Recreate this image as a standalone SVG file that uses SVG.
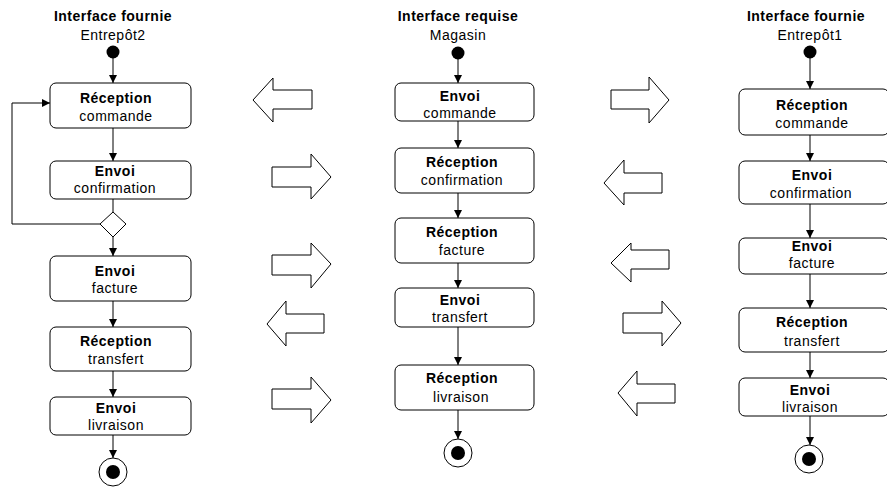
<svg xmlns="http://www.w3.org/2000/svg" width="887" height="487" viewBox="0 0 887 487">
<defs>
<marker id="ah" markerWidth="8" markerHeight="10" refX="8" refY="5" orient="auto" markerUnits="userSpaceOnUse" viewBox="0 0 8 10">
<path d="M0,1 L8,5 L0,9 Z" fill="#000"/>
</marker>
</defs>
<style>
.box{fill:#fff;stroke:#000;stroke-width:1}
.t{font-family:"Liberation Sans",Arial,sans-serif;font-size:14px;text-anchor:middle;fill:#000;letter-spacing:0.5px}
.b{font-weight:bold}
.c{stroke:#000;stroke-width:1;fill:none}
.ca{stroke:#000;stroke-width:1;fill:none;marker-end:url(#ah)}
.big{fill:#fff;stroke:#000;stroke-width:1}
.dot{fill:#000}
.end{fill:#fff;stroke:#000;stroke-width:1}
</style>
<rect width="887" height="487" fill="#fff"/>

<!-- Left column -->
<g id="left-title"><text class="t b" x="113" y="21">Interface fournie</text><text class="t" x="113" y="40">Entrepôt2</text></g>
<g id="left-start"><circle class="dot" cx="113" cy="52" r="6.5"/></g>
<g id="left-1"><rect class="box" x="50" y="83" width="141" height="45" rx="6"/><text class="t b" x="116" y="103">Réception</text><text class="t" x="116" y="121">commande</text></g>
<g id="left-2"><rect class="box" x="50" y="161" width="141" height="38" rx="6"/><text class="t b" x="115" y="176">Envoi</text><text class="t" x="115" y="193">confirmation</text></g>
<g id="left-decision"><polygon class="box" points="113,212 126,224 113,237 100,224"/></g>
<g id="left-3"><rect class="box" x="50" y="256" width="141" height="45" rx="6"/><text class="t b" x="115" y="276">Envoi</text><text class="t" x="115" y="293">facture</text></g>
<g id="left-4"><rect class="box" x="50" y="327" width="141" height="44" rx="6"/><text class="t b" x="116" y="346">Réception</text><text class="t" x="116" y="364">transfert</text></g>
<g id="left-5"><rect class="box" x="50" y="397" width="141" height="38" rx="6"/><text class="t b" x="116" y="413">Envoi</text><text class="t" x="116" y="430">livraison</text></g>
<g id="left-end"><circle class="end" cx="113" cy="472" r="14"/><circle class="dot" cx="113" cy="472" r="7"/></g>

<!-- Middle column -->
<g id="mid-title"><text class="t b" x="458" y="21">Interface requise</text><text class="t" x="458" y="40">Magasin</text></g>
<g id="mid-start"><circle class="dot" cx="458" cy="53" r="6.5"/></g>
<g id="mid-1"><rect class="box" x="395" y="83" width="139" height="38" rx="6"/><text class="t b" x="460" y="101">Envoi</text><text class="t" x="460" y="118">commande</text></g>
<g id="mid-2"><rect class="box" x="395" y="148" width="139" height="45" rx="6"/><text class="t b" x="462" y="167">Réception</text><text class="t" x="462" y="185">confirmation</text></g>
<g id="mid-3"><rect class="box" x="395" y="218" width="139" height="45" rx="6"/><text class="t b" x="462" y="237">Réception</text><text class="t" x="462" y="255">facture</text></g>
<g id="mid-4"><rect class="box" x="395" y="288" width="139" height="39" rx="6"/><text class="t b" x="460" y="305">Envoi</text><text class="t" x="460" y="322">transfert</text></g>
<g id="mid-5"><rect class="box" x="395" y="365" width="139" height="45" rx="6"/><text class="t b" x="462" y="383">Réception</text><text class="t" x="461" y="402">livraison</text></g>
<g id="mid-end"><circle class="end" cx="458" cy="453" r="14"/><circle class="dot" cx="458" cy="453" r="7"/></g>

<!-- Right column -->
<g id="right-title"><text class="t b" x="806" y="21">Interface fournie</text><text class="t" x="810" y="40">Entrepôt1</text></g>
<g id="right-start"><circle class="dot" cx="810" cy="52" r="6.5"/></g>
<g id="right-1"><rect class="box" x="739" y="89" width="150" height="46" rx="6"/><text class="t b" x="812" y="110">Réception</text><text class="t" x="812" y="128">commande</text></g>
<g id="right-2"><rect class="box" x="739" y="161" width="150" height="43" rx="6"/><text class="t b" x="812" y="180">Envoi</text><text class="t" x="811" y="198">confirmation</text></g>
<g id="right-3"><rect class="box" x="739" y="238" width="150" height="36" rx="6"/><text class="t b" x="812" y="251">Envoi</text><text class="t" x="812" y="268">facture</text></g>
<g id="right-4"><rect class="box" x="739" y="308" width="150" height="44" rx="6"/><text class="t b" x="812" y="327">Réception</text><text class="t" x="812" y="346">transfert</text></g>
<g id="right-5"><rect class="box" x="739" y="378" width="150" height="38" rx="6"/><text class="t b" x="810" y="395">Envoi</text><text class="t" x="810" y="412">livraison</text></g>
<g id="right-end"><circle class="end" cx="809" cy="459" r="14"/><circle class="dot" cx="809" cy="459" r="7"/></g>

<!-- Block arrows between columns -->
<g id="msg-arrows">
<polygon class="big" points="253,100 273,78 273,90 312,90 312,109 273,109 273,122"/>
<polygon class="big" points="272,167 311,167 311,154 331,177 311,199 311,187 272,187"/>
<polygon class="big" points="272,255 311,255 311,243 331,264 311,288 311,275 272,275"/>
<polygon class="big" points="267,324 286,301 286,314 324,314 324,333 286,333 286,346"/>
<polygon class="big" points="272,389 311,389 311,377 331,400 311,423 311,409 272,409"/>
<polygon class="big" points="611,90 649,90 649,77 669,100 649,123 649,109 611,109"/>
<polygon class="big" points="604,183 624,160 624,173 662,173 662,193 624,193 624,205"/>
<polygon class="big" points="611,263 631,243 631,250 669,250 669,269 631,269 631,282"/>
<polygon class="big" points="623,313 662,313 662,301 681,323 662,346 662,333 623,333"/>
<polygon class="big" points="618,393 637,371 637,384 675,384 675,403 637,403 637,416"/>
</g>

<!-- Connectors -->
<g id="connectors">
<line class="ca" x1="113" y1="58" x2="113" y2="83"/>
<line class="ca" x1="113" y1="128" x2="113" y2="161"/>
<line class="c" x1="113" y1="199" x2="113" y2="212"/>
<line class="ca" x1="113" y1="237" x2="113" y2="256"/>
<line class="ca" x1="113" y1="301" x2="113" y2="327"/>
<line class="ca" x1="113" y1="371" x2="113" y2="397"/>
<line class="ca" x1="113" y1="435" x2="113" y2="458"/>
<polyline class="ca" points="100,224 12,224 12,103 50,103"/>

<line class="ca" x1="458" y1="59" x2="458" y2="83"/>
<line class="ca" x1="458" y1="121" x2="458" y2="148"/>
<line class="ca" x1="458" y1="193" x2="458" y2="218"/>
<line class="ca" x1="458" y1="263" x2="458" y2="288"/>
<line class="ca" x1="458" y1="327" x2="458" y2="365"/>
<line class="ca" x1="458" y1="410" x2="458" y2="439"/>

<line class="ca" x1="810" y1="58" x2="810" y2="89"/>
<line class="ca" x1="810" y1="135" x2="810" y2="161"/>
<line class="ca" x1="810" y1="204" x2="810" y2="238"/>
<line class="ca" x1="810" y1="274" x2="810" y2="308"/>
<line class="ca" x1="810" y1="352" x2="810" y2="378"/>
<line class="ca" x1="810" y1="416" x2="810" y2="445"/>
</g>
</svg>
